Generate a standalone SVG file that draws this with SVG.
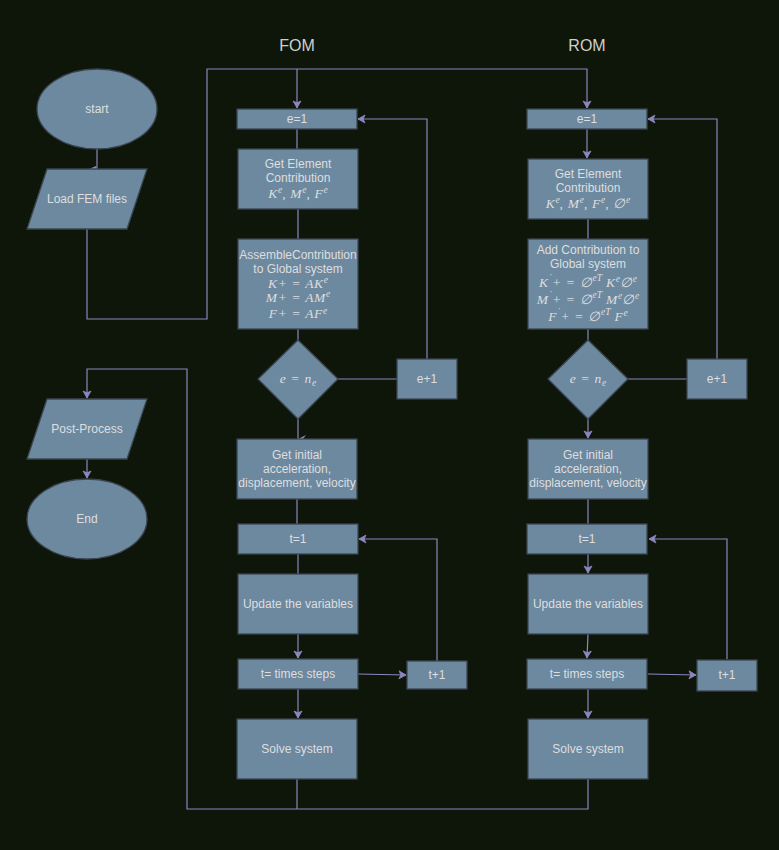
<svg xmlns="http://www.w3.org/2000/svg" width="779" height="850" viewBox="0 0 779 850">
<style>
.bg{fill:#0d1608}
.n{fill:#6d89a0;stroke:#3b4552;stroke-width:1.3}
.t{font-family:"Liberation Sans",Arial,sans-serif;font-size:12px;fill:#dedede;text-anchor:middle}
.m{font-family:"Liberation Serif","Times New Roman",serif;font-style:italic;font-size:13.5px;letter-spacing:0.7px;fill:#dedede;text-anchor:middle}
.s{font-size:9.5px;letter-spacing:0}
.h{font-family:"Liberation Sans",Arial,sans-serif;font-size:16px;fill:#cfcfcf;text-anchor:middle}
.e{fill:none;stroke:#8c87c0;stroke-width:1.2}
.a{marker-end:url(#arr)}
</style>
<defs>
<marker id="arr" markerUnits="userSpaceOnUse" markerWidth="10" markerHeight="10" refX="7" refY="4" orient="auto" overflow="visible">
<path d="M0,0 L7,4 L0,8 L1.8,4 Z" fill="#8c87c0" stroke="#8c87c0" stroke-width="0.8"/>
</marker>
</defs>
<rect class="bg" x="0" y="0" width="779" height="850"/>

<text class="h" x="297" y="51">FOM</text>
<text class="h" x="587" y="51">ROM</text>

<g id="connectors">
<path class="e" d="M97,149 V169"/>
<polygon points="89,169 96,166 97,169" fill="#8c87c0"/>
<path class="e" d="M87,229 V319 H207 V69 H587 V108" marker-end="url(#arr)"/>
<path class="e a" d="M297,69 V108"/>
<path class="e" d="M297,129 V149"/>
<path class="e" d="M298,209 V239"/>
<path class="e" d="M298,329 V340"/>
<path class="e" d="M338,379 H397"/>
<path class="e a" d="M427,359 V119 H358"/>
<path class="e" d="M298,419 V439"/>
<polygon points="298,439 306,435 303,439" fill="#8c87c0"/>
<path class="e" d="M297,499 V524"/>
<path class="e" d="M298,554 V574"/>
<path class="e a" d="M298,634 V658"/>
<path class="e a" d="M358,674 L406,675"/>
<path class="e a" d="M437,661 V539 H359"/>
<path class="e a" d="M298,689 V718"/>
<path class="e a" d="M587,129 V158"/>
<path class="e" d="M588,219 V239"/>
<path class="e" d="M588,329 V340"/>
<path class="e" d="M628,379 H687"/>
<path class="e a" d="M717,359 V119 H648"/>
<path class="e a" d="M588,419 V438"/>
<path class="e" d="M588,499 V524"/>
<path class="e a" d="M588,554 V573"/>
<path class="e a" d="M588,634 L587,658"/>
<path class="e a" d="M648,674 L696,675"/>
<path class="e a" d="M727,659 V539 H649"/>
<path class="e a" d="M588,689 V718"/>
<path class="e" d="M297,779 V809"/>
<path class="e" d="M588,779 V809 H187 V369 H87 V398" marker-end="url(#arr)"/>
<path class="e a" d="M87,459 V478"/>
</g>

<g id="start">
<ellipse class="n" cx="97" cy="109" rx="60" ry="40"/>
<text class="t" x="97" y="113">start</text>
</g>
<g id="load">
<polygon class="n" points="47,169 147,169 127,229 27,229"/>
<text class="t" x="87" y="203">Load FEM files</text>
</g>
<g id="post">
<polygon class="n" points="47,399 147,399 127,459 27,459"/>
<text class="t" x="87" y="433">Post-Process</text>
</g>
<g id="end">
<ellipse class="n" cx="87" cy="519" rx="60" ry="40"/>
<text class="t" x="87" y="523">End</text>
</g>

<g id="fom-e1">
<rect class="n" x="237" y="109" width="120" height="20"/>
<text class="t" x="297" y="123">e=1</text>
</g>
<g id="fom-get">
<rect class="n" x="238" y="149" width="120" height="60"/>
<text class="t" x="298" y="168">Get Element</text>
<text class="t" x="298" y="182">Contribution</text>
<text class="m" x="298" y="198">K<tspan class="s" dy="-5">e</tspan><tspan dy="5">, M</tspan><tspan class="s" dy="-5">e</tspan><tspan dy="5">, F</tspan><tspan class="s" dy="-5">e</tspan></text>
</g>
<g id="fom-assemble">
<rect class="n" x="238" y="239" width="120" height="90"/>
<text class="t" x="298" y="259">AssembleContribution</text>
<text class="t" x="298" y="273">to Global system</text>
<text class="m" x="298" y="288">K+ = AK<tspan class="s" dy="-5">e</tspan></text>
<text class="m" x="298" y="302">M+ = AM<tspan class="s" dy="-5">e</tspan></text>
<text class="m" x="298" y="318">F+ = AF<tspan class="s" dy="-4">e</tspan></text>
</g>
<g id="fom-dec">
<polygon class="n" points="298,340 338,379 298,419 258,379"/>
<text class="m" x="298" y="383">e = n<tspan class="s" dy="3">e</tspan></text>
</g>
<g id="fom-inc">
<rect class="n" x="397" y="359" width="60" height="40"/>
<text class="t" x="427" y="383">e+1</text>
</g>
<g id="fom-init">
<rect class="n" x="237" y="439" width="120" height="60"/>
<text class="t" x="297" y="459">Get initial</text>
<text class="t" x="297" y="473">acceleration,</text>
<text class="t" x="297" y="487">displacement, velocity</text>
</g>
<g id="fom-t1">
<rect class="n" x="238" y="524" width="120" height="30"/>
<text class="t" x="298" y="543">t=1</text>
</g>
<g id="fom-update">
<rect class="n" x="238" y="574" width="120" height="60"/>
<text class="t" x="298" y="608">Update the variables</text>
</g>
<g id="fom-tsteps">
<rect class="n" x="238" y="659" width="120" height="30"/>
<text class="t" x="298" y="678">t= times steps</text>
</g>
<g id="fom-tinc">
<rect class="n" x="407" y="661" width="60" height="28"/>
<text class="t" x="437" y="679">t+1</text>
</g>
<g id="fom-solve">
<rect class="n" x="237" y="719" width="120" height="60"/>
<text class="t" x="297" y="753">Solve system</text>
</g>

<g id="rom-e1">
<rect class="n" x="527" y="109" width="120" height="20"/>
<text class="t" x="587" y="123">e=1</text>
</g>
<g id="rom-get">
<rect class="n" x="528" y="159" width="120" height="60"/>
<text class="t" x="588" y="178">Get Element</text>
<text class="t" x="588" y="192">Contribution</text>
<text class="m" x="588" y="208">K<tspan class="s" dy="-5">e</tspan><tspan dy="5">, M</tspan><tspan class="s" dy="-5">e</tspan><tspan dy="5">, F</tspan><tspan class="s" dy="-5">e</tspan><tspan dy="5">, ∅</tspan><tspan class="s" dy="-5">e</tspan></text>
</g>
<g id="rom-add">
<rect class="n" x="528" y="239" width="120" height="90"/>
<text class="t" x="588" y="254">Add Contribution to</text>
<text class="t" x="588" y="268">Global system</text>
<text class="m" x="588" y="287">K<tspan class="s" dy="-6">˙</tspan><tspan dy="6">+ = ∅</tspan><tspan class="s" dy="-6">eT</tspan><tspan dy="6"> K</tspan><tspan class="s" dy="-5">e</tspan><tspan dy="5">∅</tspan><tspan class="s" dy="-5">e</tspan></text>
<text class="m" x="588" y="304">M<tspan class="s" dy="-6">˙</tspan><tspan dy="6">+ = ∅</tspan><tspan class="s" dy="-6">eT</tspan><tspan dy="6"> M</tspan><tspan class="s" dy="-5">e</tspan><tspan dy="5">∅</tspan><tspan class="s" dy="-5">e</tspan></text>
<text class="m" x="588" y="321">F<tspan class="s" dy="-6">˙</tspan><tspan dy="6">+ = ∅</tspan><tspan class="s" dy="-6">eT</tspan><tspan dy="6"> F</tspan><tspan class="s" dy="-5">e</tspan></text>
</g>
<g id="rom-dec">
<polygon class="n" points="588,340 628,379 588,419 548,379"/>
<text class="m" x="588" y="383">e = n<tspan class="s" dy="3">e</tspan></text>
</g>
<g id="rom-inc">
<rect class="n" x="687" y="359" width="60" height="40"/>
<text class="t" x="717" y="383">e+1</text>
</g>
<g id="rom-init">
<rect class="n" x="528" y="439" width="120" height="60"/>
<text class="t" x="588" y="459">Get initial</text>
<text class="t" x="588" y="473">acceleration,</text>
<text class="t" x="588" y="487">displacement, velocity</text>
</g>
<g id="rom-t1">
<rect class="n" x="527" y="524" width="120" height="30"/>
<text class="t" x="587" y="543">t=1</text>
</g>
<g id="rom-update">
<rect class="n" x="528" y="574" width="120" height="60"/>
<text class="t" x="588" y="608">Update the variables</text>
</g>
<g id="rom-tsteps">
<rect class="n" x="527" y="659" width="120" height="30"/>
<text class="t" x="587" y="678">t= times steps</text>
</g>
<g id="rom-tinc">
<rect class="n" x="697" y="660" width="60" height="31"/>
<text class="t" x="727" y="679">t+1</text>
</g>
<g id="rom-solve">
<rect class="n" x="528" y="719" width="120" height="60"/>
<text class="t" x="588" y="753">Solve system</text>
</g>
</svg>
